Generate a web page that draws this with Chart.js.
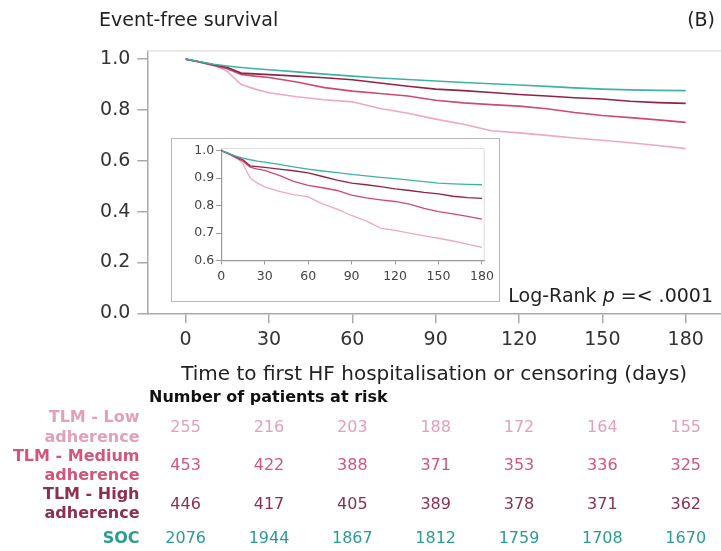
<!DOCTYPE html>
<html lang="en">
<head>
<meta charset="UTF-8">
<style>
  html, body { margin: 0; padding: 0; background: #fff; }
  #wrap { position: relative; width: 721px; height: 551px; overflow: hidden; }
  #main { position: absolute; left: 0; top: 0; }
  #insetBox { position: absolute; left: 171px; top: 138px; width: 327px; height: 162px;
              border: 1.5px solid #b8b8b8; background: #fff; }
  #inset { display: block; }
</style>
</head>
<body>
<div id="wrap">
  <canvas id="main" width="721" height="551"></canvas>
  <div id="insetBox"><canvas id="inset" width="327" height="162"></canvas></div>
</div>
<script src="https://cdn.jsdelivr.net/npm/chart.js@4.4.0/dist/chart.umd.min.js"></script>
<script>
// follow-up days and event-free survival
var days = [0, 5, 10, 15, 20, 25, 30, 40, 50, 60, 70, 80, 90, 100, 110, 120, 130, 140, 150, 160, 170, 180];
var survLow = [1.0, 0.99, 0.978, 0.952, 0.9, 0.882, 0.868, 0.852, 0.840, 0.832, 0.806, 0.787, 0.764, 0.744, 0.718, 0.710, 0.700, 0.690, 0.681, 0.671, 0.660, 0.648];
var survMedium = [1.0, 0.988, 0.975, 0.962, 0.940, 0.933, 0.928, 0.910, 0.888, 0.874, 0.865, 0.855, 0.838, 0.828, 0.821, 0.815, 0.805, 0.790, 0.778, 0.770, 0.761, 0.751];
var survHigh = [1.0, 0.99, 0.978, 0.967, 0.945, 0.942, 0.939, 0.933, 0.927, 0.919, 0.906, 0.893, 0.882, 0.876, 0.869, 0.861, 0.855, 0.848, 0.843, 0.834, 0.829, 0.826];
var survSoc = [1.0, 0.99, 0.98, 0.973, 0.967, 0.962, 0.958, 0.950, 0.941, 0.933, 0.926, 0.920, 0.914, 0.908, 0.903, 0.898, 0.893, 0.887, 0.882, 0.879, 0.877, 0.876];

var xTicks = [0, 30, 60, 90, 120, 150, 180];
var yTicksMain = [0, 0.2, 0.4, 0.6, 0.8, 1.0];
var yTicksInset = [0.6, 0.7, 0.8, 0.9, 1.0];

// number of patients at risk at each x tick
var groupNames = [['TLM - Low', 'adherence'], ['TLM - Medium', 'adherence'], ['TLM - High', 'adherence'], ['SOC']];
var riskLow = [255, 216, 203, 188, 172, 164, 155];
var riskMedium = [453, 422, 388, 371, 353, 336, 325];
var riskHigh = [446, 417, 405, 389, 378, 371, 362];
var riskSoc = [2076, 1944, 1867, 1812, 1759, 1708, 1670];

var lineColors = ['#eea9bf', '#cf4a6e', '#8f2445', '#40b1a7'];
var textColors = ['#e3a1b6', '#d3557b', '#8c2f50', '#2a9d91'];
var FONT = '"DejaVu Sans", "Noto Sans", sans-serif';

function pts(vals) {
    var out = [];
    for (var i = 0; i < days.length; i++) out.push({x: days[i], y: vals[i]});
    return out;
}
function makeDatasets(width) {
    var all = [survLow, survMedium, survHigh, survSoc];
    var ds = [];
    for (var i = 0; i < all.length; i++) {
        ds.push({
            data: pts(all[i]),
            borderColor: lineColors[i],
            borderWidth: width,
            pointRadius: 0,
            tension: 0,
            fill: false,
            order: 4 - i
        });
    }
    return ds;
}

var annotate = {
    id: 'annotate',
    afterDraw: function (chart) {
        var ctx = chart.ctx, xs = chart.scales.x, area = chart.chartArea;
        ctx.save();
        // faint frame line along the top
        ctx.strokeStyle = '#e3e3e3';
        ctx.lineWidth = 1.5;
        ctx.beginPath();
        ctx.moveTo(area.left, area.top);
        ctx.lineTo(area.right, area.top);
        ctx.stroke();

        ctx.fillStyle = '#222';
        ctx.textBaseline = 'middle';
        ctx.font = '19px ' + FONT;
        ctx.textAlign = 'left';
        ctx.fillText('Event-free survival', 99, 21);
        ctx.textAlign = 'right';
        ctx.fillText('(B)', 715, 21);

        // Log-Rank p =< .0001 with italic p
        var parts = [['Log-Rank ', '19px '], ['p', 'italic 19px '], [' =< .0001', '19px ']];
        var total = 0, i;
        for (i = 0; i < parts.length; i++) {
            ctx.font = parts[i][1] + FONT;
            total += ctx.measureText(parts[i][0]).width;
        }
        var x = 713 - total;
        ctx.textAlign = 'left';
        for (i = 0; i < parts.length; i++) {
            ctx.font = parts[i][1] + FONT;
            ctx.fillText(parts[i][0], x, 297);
            x += ctx.measureText(parts[i][0]).width;
        }

        // risk table
        ctx.fillStyle = '#111';
        ctx.font = 'bold 16px ' + FONT;
        ctx.fillText('Number of patients at risk', 149, 398);
        var risks = [riskLow, riskMedium, riskHigh, riskSoc];
        var labelYs = [[418, 437.5], [456.5, 475.5], [495, 514], [539]];
        var valueYs = [428, 466, 504.5, 539];
        for (var r = 0; r < risks.length; r++) {
            ctx.fillStyle = textColors[r];
            ctx.font = 'bold 16px ' + FONT;
            ctx.textAlign = 'right';
            for (var l = 0; l < groupNames[r].length; l++) {
                ctx.fillText(groupNames[r][l], 139.5, labelYs[r][l]);
            }
            ctx.font = '16px ' + FONT;
            ctx.textAlign = 'center';
            for (var c = 0; c < xTicks.length; c++) {
                ctx.fillText(String(risks[r][c]), xs.getPixelForValue(xTicks[c]), valueYs[r]);
            }
        }
        ctx.restore();
    }
};

var mainChart = new Chart(document.getElementById('main').getContext('2d'), {
    type: 'line',
    data: {datasets: makeDatasets(1.6)},
    plugins: [annotate],
    options: {
        responsive: false,
        animation: false,
        layout: {padding: {left: 0, right: 0, top: 51, bottom: 161}},
        plugins: {legend: {display: false}, tooltip: {enabled: false}},
        scales: {
            x: {
                type: 'linear', min: -13.8, max: 192.7,
                afterBuildTicks: function (s) { s.ticks = xTicks.map(function (v) { return {value: v}; }); },
                afterFit: function (s) { s.height = 76.7; },
                grid: {drawOnChartArea: false, tickLength: 10, color: '#aaa', lineWidth: 1.5},
                border: {color: '#aaa', width: 1.5},
                ticks: {color: '#333', padding: 5, font: {family: FONT, size: 19}, maxRotation: 0},
                title: {display: true, text: 'Time to first HF hospitalisation or censoring (days)',
                        color: '#222', font: {family: FONT, size: 20}, padding: {top: 0, bottom: 3}}
            },
            y: {
                type: 'linear', min: 0, max: 1.032,
                afterBuildTicks: function (s) { s.ticks = yTicksMain.map(function (v) { return {value: v}; }); },
                afterFit: function (s) { s.width = 147.3; },
                grid: {drawOnChartArea: false, tickLength: 10, color: '#aaa', lineWidth: 1.5},
                border: {color: '#aaa', width: 1.5},
                ticks: {color: '#333', padding: 7, font: {family: FONT, size: 19},
                        callback: function (v) { return v.toFixed(1); }}
            }
        }
    }
});

var insetFrame = {
    id: 'insetFrame',
    beforeDatasetsDraw: function (chart) {
        var ctx = chart.ctx, a = chart.chartArea;
        ctx.save();
        ctx.strokeStyle = '#dedede';
        ctx.lineWidth = 1;
        ctx.beginPath();
        ctx.moveTo(a.left, a.top);
        ctx.lineTo(a.right, a.top);
        ctx.lineTo(a.right, a.bottom);
        ctx.stroke();
        ctx.restore();
    }
};

var insetChart = new Chart(document.getElementById('inset').getContext('2d'), {
    type: 'line',
    data: {datasets: makeDatasets(1.3)},
    plugins: [insetFrame],
    options: {
        responsive: false,
        animation: false,
        layout: {padding: {left: 0, right: 10, top: 7.5, bottom: 0}},
        plugins: {legend: {display: false}, tooltip: {enabled: false}},
        scales: {
            x: {
                type: 'linear', min: 0, max: 181.5,
                afterBuildTicks: function (s) { s.ticks = xTicks.map(function (v) { return {value: v}; }); },
                afterFit: function (s) { s.height = 40.5; },
                grid: {drawOnChartArea: false, tickLength: 4, color: '#999', lineWidth: 1},
                border: {color: '#999', width: 1.2},
                ticks: {color: '#444', padding: 5, font: {family: FONT, size: 12.5}, maxRotation: 0}
            },
            y: {
                type: 'linear', min: 0.6, max: 1.008,
                afterBuildTicks: function (s) { s.ticks = yTicksInset.map(function (v) { return {value: v}; }); },
                afterFit: function (s) { s.width = 49.2; },
                grid: {drawOnChartArea: false, tickLength: 5, color: '#999', lineWidth: 1},
                border: {color: '#999', width: 1.2},
                ticks: {color: '#444', padding: 2, font: {family: FONT, size: 12.5},
                        callback: function (v) { return v.toFixed(1); }}
            }
        }
    }
});
</script>
</body>
</html>
